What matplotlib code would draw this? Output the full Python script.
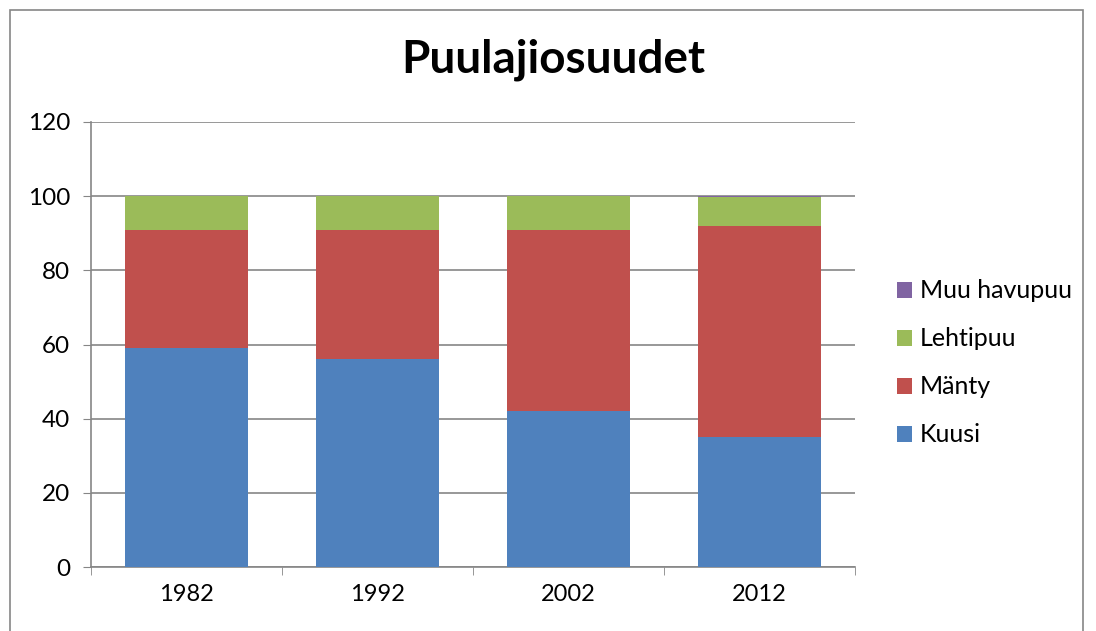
import numpy as np
import matplotlib
matplotlib.use('Agg')
import matplotlib.pyplot as plt
from matplotlib.patches import Rectangle

years = ['1982', '1992', '2002', '2012']
kuusi = [59, 56, 42, 35]
manty = [32, 35, 49, 57]
lehtipuu = [9, 9, 9, 7.7]
muu_havupuu = [0, 0, 0, 0.3]

series = [('Kuusi', kuusi, '#4f81bd'), ('Mänty', manty, '#c0504d'),
          ('Lehtipuu', lehtipuu, '#9bbb59'), ('Muu havupuu', muu_havupuu, '#8064a2')]

plt.rcParams['font.family'] = ['Lato', 'DejaVu Sans']
fig = plt.figure(figsize=(10.96, 6.31), dpi=100)
ax = fig.add_axes([91/1096, 1-567/631, 764/1096, 445/631])

x = np.arange(len(years))
bottom = np.zeros(len(years))
handles = []
for name, vals, col in series:
    b = ax.bar(x, vals, width=0.645, bottom=bottom, color=col, label=name, zorder=3)
    bottom += np.array(vals)
    handles.append(b)

ax.set_xlim(-0.5, len(years) - 0.5)
ax.set_ylim(0, 120)
ax.set_yticks(range(0, 121, 20))
ax.set_xticks(x)
ax.set_xticklabels(years)
ax.set_xticks(np.arange(-0.5, len(years)), minor=True)
ax.tick_params(axis='x', which='major', length=0, labelsize=17, pad=12)
ax.tick_params(axis='x', which='minor', length=6, color='#868686', direction='out')
ax.tick_params(axis='y', length=6, color='#868686', labelsize=17.5, pad=9)
ax.grid(axis='y', color='#868686', linewidth=1.2, zorder=0)
for s in ['top', 'right']:
    ax.spines[s].set_visible(False)
for s in ['left', 'bottom']:
    ax.spines[s].set_color('#868686')
    ax.spines[s].set_linewidth(1.2)

fig.text(553/1096, 1-60/631, 'Puulajiosuudet', ha='center', va='center',
         fontsize=33, fontweight='bold')

leg = fig.legend(handles[::-1], [s[0] for s in series][::-1], loc='center left',
                 bbox_to_anchor=(874/1096, 1-363/631), frameon=False, fontsize=18,
                 handlelength=0.6, handleheight=0.6, handletextpad=0.35, labelspacing=1.0)

fig.add_artist(Rectangle((10/1096, -0.01), 1073/1096, 1 - 10/631 + 0.01, transform=fig.transFigure,
                         fill=False, edgecolor='#868686', linewidth=1.2))

fig.savefig('out.png', dpi=100)
